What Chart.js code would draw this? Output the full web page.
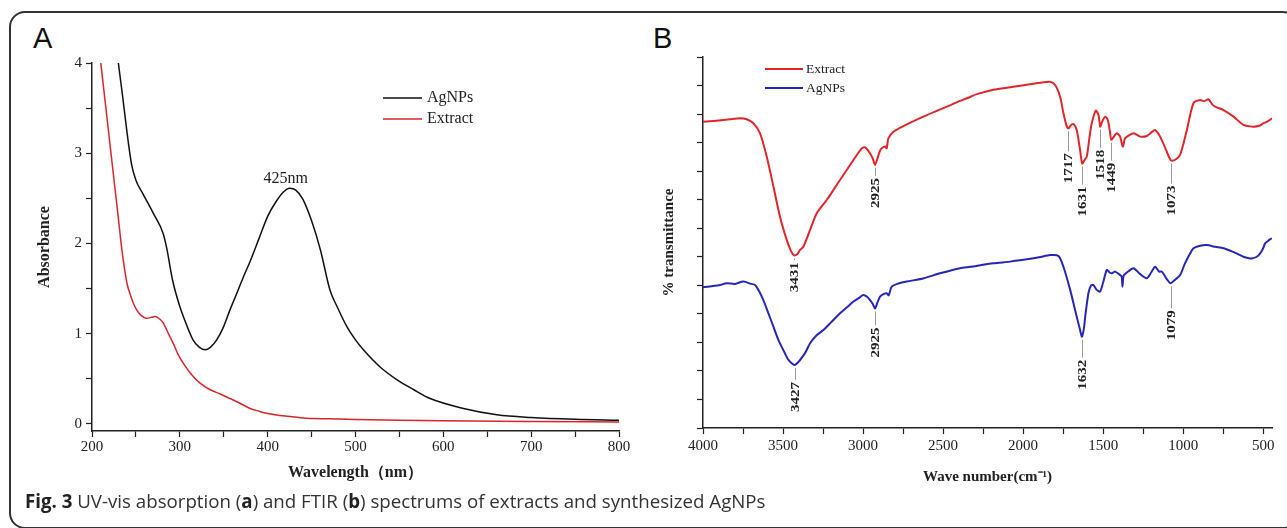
<!DOCTYPE html>
<html>
<head>
<meta charset="utf-8">
<script src="https://cdn.jsdelivr.net/npm/chart.js@4.4.1/dist/chart.umd.min.js"></script>
<style>
  html, body { margin: 0; padding: 0; background: #fff; }
  body { width: 1287px; height: 528px; position: relative; overflow: hidden; }
  #frame { position: absolute; left: 9px; top: 11px; width: 1290px; height: 518px;
           border: 2px solid #333; border-radius: 16px; box-sizing: border-box; }
  .panel { position: absolute; top: 24px; font-family: "Liberation Sans", Arial, sans-serif;
           font-size: 29px; line-height: 1; color: #111; }
  #cvA { position: absolute; left: 0; top: 0; }
  #cvB { position: absolute; left: 640px; top: 0; }
  #caption { position: absolute; left: 25px; top: 492px; font-family: "Open Sans", sans-serif;
             font-size: 18.7px; line-height: 1; color: #333; white-space: nowrap; }
  #caption b { color: #222; }
</style>
</head>
<body>
<div id="frame"></div>
<div class="panel" style="left:33px">A</div>
<div class="panel" style="left:653px">B</div>
<canvas id="cvA" width="640" height="490"></canvas>
<canvas id="cvB" width="647" height="490"></canvas>
<div id="caption"><b>Fig. 3</b> UV-vis absorption (<b>a</b>) and FTIR (<b>b</b>) spectrums of extracts and synthesized AgNPs</div>

<script>
// ---- UV-vis (panel A) ----
var uvAgNPsNm  = [230, 235, 240, 245, 250, 258, 270, 281, 285, 292, 300, 304, 315, 322, 329, 335, 342, 350, 357, 365, 372, 380, 390, 400, 410, 418, 425, 432, 440, 450, 460, 471, 479, 490, 500, 509, 528, 547, 566, 585, 623, 661, 700, 750, 800];
var uvAgNPsAbs = [4.0, 3.62, 3.22, 2.88, 2.70, 2.55, 2.33, 2.11, 1.95, 1.58, 1.30, 1.19, 0.93, 0.85, 0.82, 0.85, 0.93, 1.08, 1.26, 1.45, 1.62, 1.80, 2.05, 2.30, 2.47, 2.57, 2.61, 2.59, 2.49, 2.25, 1.93, 1.48, 1.30, 1.08, 0.93, 0.82, 0.63, 0.49, 0.38, 0.28, 0.17, 0.10, 0.07, 0.05, 0.04];

var uvExtractNm  = [210, 215, 220, 225, 230, 234, 237, 240, 244, 247, 251, 255, 262, 268, 272, 276, 281, 287, 293, 298, 304, 313, 323, 334, 346, 357, 368, 380, 390, 400, 420, 440, 470, 500, 550, 600, 700, 800];
var uvExtractAbs = [4.0, 3.57, 3.14, 2.71, 2.28, 1.93, 1.72, 1.55, 1.42, 1.34, 1.26, 1.21, 1.17, 1.18, 1.19, 1.17, 1.12, 1.0, 0.88, 0.77, 0.67, 0.55, 0.45, 0.38, 0.33, 0.28, 0.23, 0.17, 0.14, 0.115, 0.085, 0.065, 0.055, 0.048, 0.04, 0.034, 0.026, 0.02];

var uvPeakNm = 425;
var uvXTicks = [200, 250, 300, 350, 400, 450, 500, 550, 600, 650, 700, 750, 800];
var uvYTicks = [0, 0.5, 1, 1.5, 2, 2.5, 3, 3.5, 4];

// ---- FTIR (panel B) ----
var irExtractWn = [4000, 3915, 3831, 3769, 3727, 3685, 3644, 3602, 3560, 3519, 3477, 3450, 3431, 3410, 3394, 3373, 3331, 3290, 3227, 3144, 3060, 3008, 2987, 2956, 2940, 2925, 2910, 2895, 2883, 2862, 2852, 2842, 2810, 2748, 2623, 2477, 2394, 2331, 2289, 2185, 2081, 1977, 1894, 1831, 1800, 1769, 1748, 1727, 1717, 1700, 1685, 1665, 1644, 1631, 1615, 1602, 1585, 1571, 1546, 1529, 1518, 1505, 1487, 1471, 1458, 1449, 1430, 1415, 1394, 1377, 1363, 1340, 1310, 1269, 1227, 1200, 1175, 1144, 1102, 1085, 1073, 1050, 1019, 977, 936, 894, 870, 842, 820, 800, 748, 685, 623, 561, 520, 498, 470, 446];
var irExtractT  = [107.3, 107.7, 108.2, 108.5, 108.2, 106.8, 103.3, 95.1, 84.6, 74.0, 65.9, 62.0, 60.5, 61.0, 62.4, 63.5, 69.4, 75.2, 79.9, 86.9, 93.9, 98.0, 98.3, 96.2, 94.5, 92.2, 94.5, 97.0, 98.0, 98.6, 98.0, 101.5, 103.8, 105.8, 109.1, 112.6, 114.6, 116.0, 117.0, 118.5, 119.4, 120.3, 121.0, 121.3, 120.2, 116.1, 110.3, 105.6, 105.0, 106.2, 106.5, 104.4, 97.4, 92.7, 94.0, 95.1, 102.0, 106.8, 111.2, 109.7, 105.6, 107.5, 109.1, 107.9, 104.0, 101.0, 102.3, 103.3, 102.1, 98.6, 101.5, 102.5, 103.3, 102.1, 102.3, 103.5, 104.4, 102.1, 96.8, 94.5, 93.7, 94.0, 95.7, 104.4, 113.8, 114.9, 114.5, 115.2, 113.5, 112.6, 111.4, 109.1, 106.2, 105.6, 106.0, 106.8, 107.5, 108.5];

var irAgNPsWn = [4000, 3900, 3852, 3800, 3748, 3700, 3675, 3650, 3623, 3590, 3560, 3530, 3498, 3470, 3446, 3427, 3410, 3394, 3360, 3331, 3290, 3248, 3200, 3144, 3100, 3060, 3020, 2998, 2975, 2956, 2940, 2925, 2910, 2894, 2870, 2852, 2840, 2821, 2780, 2727, 2620, 2519, 2394, 2331, 2185, 2081, 1977, 1900, 1831, 1779, 1748, 1706, 1675, 1644, 1632, 1620, 1612, 1592, 1575, 1561, 1540, 1519, 1500, 1477, 1460, 1446, 1425, 1394, 1384, 1379, 1374, 1369, 1340, 1310, 1270, 1227, 1200, 1175, 1150, 1133, 1100, 1079, 1060, 1019, 990, 956, 936, 900, 852, 800, 748, 700, 660, 623, 590, 571, 540, 519, 500, 488, 470, 460, 446];
var irAgNPsT  = [49.3, 50.0, 50.7, 50.5, 51.3, 50.5, 50.1, 48.0, 44.8, 40.0, 35.5, 31.0, 27.3, 24.2, 22.7, 22.1, 22.8, 23.8, 26.5, 29.7, 32.5, 34.3, 37.0, 40.2, 42.3, 44.3, 45.8, 46.6, 46.0, 44.8, 43.5, 41.9, 44.0, 46.0, 47.0, 47.2, 46.5, 49.5, 50.6, 51.3, 52.5, 54.2, 56.0, 56.5, 57.7, 58.3, 59.1, 59.8, 60.6, 60.3, 56.5, 48.4, 41.3, 34.3, 32.0, 35.0, 39.0, 47.2, 50.0, 50.1, 48.4, 47.8, 51.0, 55.4, 54.5, 54.2, 54.8, 53.6, 53.0, 49.5, 53.0, 53.6, 55.0, 56.0, 54.0, 52.5, 54.5, 56.5, 54.8, 54.8, 52.0, 50.7, 51.5, 53.6, 57.5, 61.2, 63.0, 63.8, 64.1, 63.5, 63.0, 62.0, 61.0, 60.0, 59.5, 59.4, 60.0, 61.2, 63.0, 64.7, 65.5, 66.0, 66.5];

var irExtractPeaks = [3431, 2925, 1717, 1631, 1518, 1449, 1073];
var irAgNPsPeaks   = [3427, 2925, 1632, 1079];
var irXTicks = [4000, 3750, 3500, 3250, 3000, 2750, 2500, 2250, 2000, 1750, 1500, 1250, 1000, 750, 500];
var irYTicks = [0, 10, 20, 30, 40, 50, 60, 70, 80, 90, 100, 110, 120, 130];

// ---------------------------------------------------------------
var serif = "'Liberation Serif', 'Times New Roman', serif";
var ink = '#222';

function pts(xs, ys) {
  return xs.map(function (x, i) { return { x: x, y: ys[i] }; });
}

function fixedTicks(values) {
  return function (scale) {
    scale.ticks = values.map(function (v) { return { value: v }; });
  };
}

function axisGrid() {
  return { drawOnChartArea: false, drawTicks: true, tickLength: 6, tickColor: ink, tickWidth: 1.2 };
}

// legend + "425nm" label for panel A
var uvDecor = {
  id: 'uvDecor',
  afterDatasetsDraw: function (chart) {
    var ctx = chart.ctx;
    ctx.save();
    chart.data.datasets.forEach(function (ds, i) {
      var y = 98 + 21 * i;
      ctx.strokeStyle = ds.borderColor;
      ctx.lineWidth = 1.5;
      ctx.beginPath(); ctx.moveTo(383, y); ctx.lineTo(422, y); ctx.stroke();
      ctx.fillStyle = ink;
      ctx.font = '16px ' + serif;
      ctx.textAlign = 'left';
      ctx.textBaseline = 'middle';
      ctx.fillText(ds.label, 427, y);
    });
    var k = uvAgNPsNm.indexOf(uvPeakNm);
    var px = chart.scales.x.getPixelForValue(uvPeakNm);
    var py = chart.scales.y.getPixelForValue(uvAgNPsAbs[k]);
    ctx.textAlign = 'center';
    ctx.textBaseline = 'bottom';
    ctx.fillText(uvPeakNm + 'nm', px - 4, py - 2);
    ctx.restore();
  }
};

// legend + peak labels for panel B
var leadExtract = [2, 8, 20, 18, 18, 18, 20];
var leadAgNPs = [12, 14, 18, 22];

var irDecor = {
  id: 'irDecor',
  afterDatasetsDraw: function (chart) {
    var ctx = chart.ctx;
    var xs = chart.scales.x, ys = chart.scales.y;
    ctx.save();
    chart.data.datasets.forEach(function (ds, i) {
      var y = 69 + 19 * i;
      ctx.strokeStyle = ds.borderColor;
      ctx.lineWidth = 2;
      ctx.beginPath(); ctx.moveTo(125, y); ctx.lineTo(163, y); ctx.stroke();
      ctx.fillStyle = ink;
      ctx.font = '13.5px ' + serif;
      ctx.textAlign = 'left';
      ctx.textBaseline = 'middle';
      ctx.fillText(ds.label, 166, y);
    });

    function marks(wns, ts, peaks, leads) {
      peaks.forEach(function (p, j) {
        var k = wns.indexOf(p);
        var px = Math.round(xs.getPixelForValue(p)) + 0.5;
        var py = ys.getPixelForValue(ts[k]) + 3;
        ctx.strokeStyle = '#9a9a9a';
        ctx.lineWidth = 1;
        ctx.beginPath(); ctx.moveTo(px, py); ctx.lineTo(px, py + leads[j]); ctx.stroke();
        ctx.save();
        ctx.translate(px, py + leads[j] + 2);
        ctx.rotate(-Math.PI / 2);
        ctx.scale(1.25, 1);
        ctx.fillStyle = ink;
        ctx.font = 'bold 12px ' + serif;
        ctx.textAlign = 'right';
        ctx.textBaseline = 'middle';
        ctx.fillText(String(p), 0, 0);
        ctx.restore();
      });
    }
    marks(irExtractWn, irExtractT, irExtractPeaks, leadExtract);
    marks(irAgNPsWn, irAgNPsT, irAgNPsPeaks, leadAgNPs);
    ctx.restore();
  }
};

new Chart(document.getElementById('cvA'), {
  type: 'line',
  data: {
    datasets: [
      { label: 'AgNPs', data: pts(uvAgNPsNm, uvAgNPsAbs), borderColor: '#111', borderWidth: 1.5,
        pointRadius: 0, cubicInterpolationMode: 'monotone', fill: false },
      { label: 'Extract', data: pts(uvExtractNm, uvExtractAbs), borderColor: '#d9252b', borderWidth: 1.5,
        pointRadius: 0, cubicInterpolationMode: 'monotone', fill: false }
    ]
  },
  options: {
    responsive: false,
    animation: false,
    events: [],
    layout: { padding: { left: 20, top: 63, right: 21, bottom: 0 } },
    plugins: { legend: { display: false }, tooltip: { enabled: false } },
    scales: {
      x: {
        type: 'linear', min: 200, max: 800,
        afterFit: function (s) { s.height = 59; },
        afterBuildTicks: fixedTicks(uvXTicks),
        ticks: { autoSkip: false, maxRotation: 0, padding: 1, color: ink,
                 font: { family: serif, size: 15 },
                 callback: function (v) { return v % 100 === 0 ? String(v) : ''; } },
        grid: axisGrid(),
        border: { display: true, color: ink, width: 1.5 },
        title: { display: true, text: 'Wavelength（nm）', color: ink,
                 font: { family: serif, size: 16, weight: 'bold' }, padding: { top: 0, bottom: 7.4 } }
      },
      y: {
        min: -0.08, max: 4,
        afterFit: function (s) { s.width = 72; },
        afterBuildTicks: fixedTicks(uvYTicks),
        ticks: { autoSkip: false, padding: 4, color: ink,
                 font: { family: serif, size: 15 },
                 callback: function (v) { return Number.isInteger(v) ? String(v) : ''; } },
        grid: axisGrid(),
        border: { display: true, color: ink, width: 1.5 },
        title: { display: true, text: 'Absorbance', color: ink,
                 font: { family: serif, size: 16, weight: 'bold' }, padding: { top: 15.4, bottom: 0 } }
      }
    }
  },
  plugins: [uvDecor]
});

new Chart(document.getElementById('cvB'), {
  type: 'line',
  data: {
    datasets: [
      { label: 'Extract', data: pts(irExtractWn, irExtractT), borderColor: '#e0262b', borderWidth: 2,
        pointRadius: 0, tension: 0.25, fill: false },
      { label: 'AgNPs', data: pts(irAgNPsWn, irAgNPsT), borderColor: '#2626b8', borderWidth: 2,
        pointRadius: 0, tension: 0.25, fill: false }
    ]
  },
  options: {
    responsive: false,
    animation: false,
    events: [],
    layout: { padding: { left: 10, top: 57, right: 15, bottom: 0 } },
    plugins: { legend: { display: false }, tooltip: { enabled: false } },
    scales: {
      x: {
        type: 'linear', min: 445, max: 4000, reverse: true,
        afterFit: function (s) { s.height = 62; },
        afterBuildTicks: fixedTicks(irXTicks),
        ticks: { autoSkip: false, maxRotation: 0, padding: 3, color: ink,
                 font: { family: serif, size: 15 },
                 callback: function (v) { return v % 500 === 0 ? String(v) : ''; } },
        grid: axisGrid(),
        border: { display: true, color: ink, width: 1.5 },
        title: { display: true, text: 'Wave number(cm⁻¹)', color: ink,
                 font: { family: serif, size: 15, weight: 'bold' }, padding: { top: 0, bottom: 4 } }
      },
      y: {
        min: 0, max: 130,
        afterFit: function (s) { s.width = 53; },
        afterBuildTicks: fixedTicks(irYTicks),
        ticks: { autoSkip: false, padding: 2, color: ink,
                 font: { family: serif, size: 15 },
                 callback: function () { return ''; } },
        grid: axisGrid(),
        border: { display: true, color: ink, width: 1.5 },
        title: { display: true, text: '% transmittance', color: ink,
                 font: { family: serif, size: 15, weight: 'bold' }, padding: { top: 10.4, bottom: 0 } }
      }
    }
  },
  plugins: [irDecor]
});
</script>
</body>
</html>
